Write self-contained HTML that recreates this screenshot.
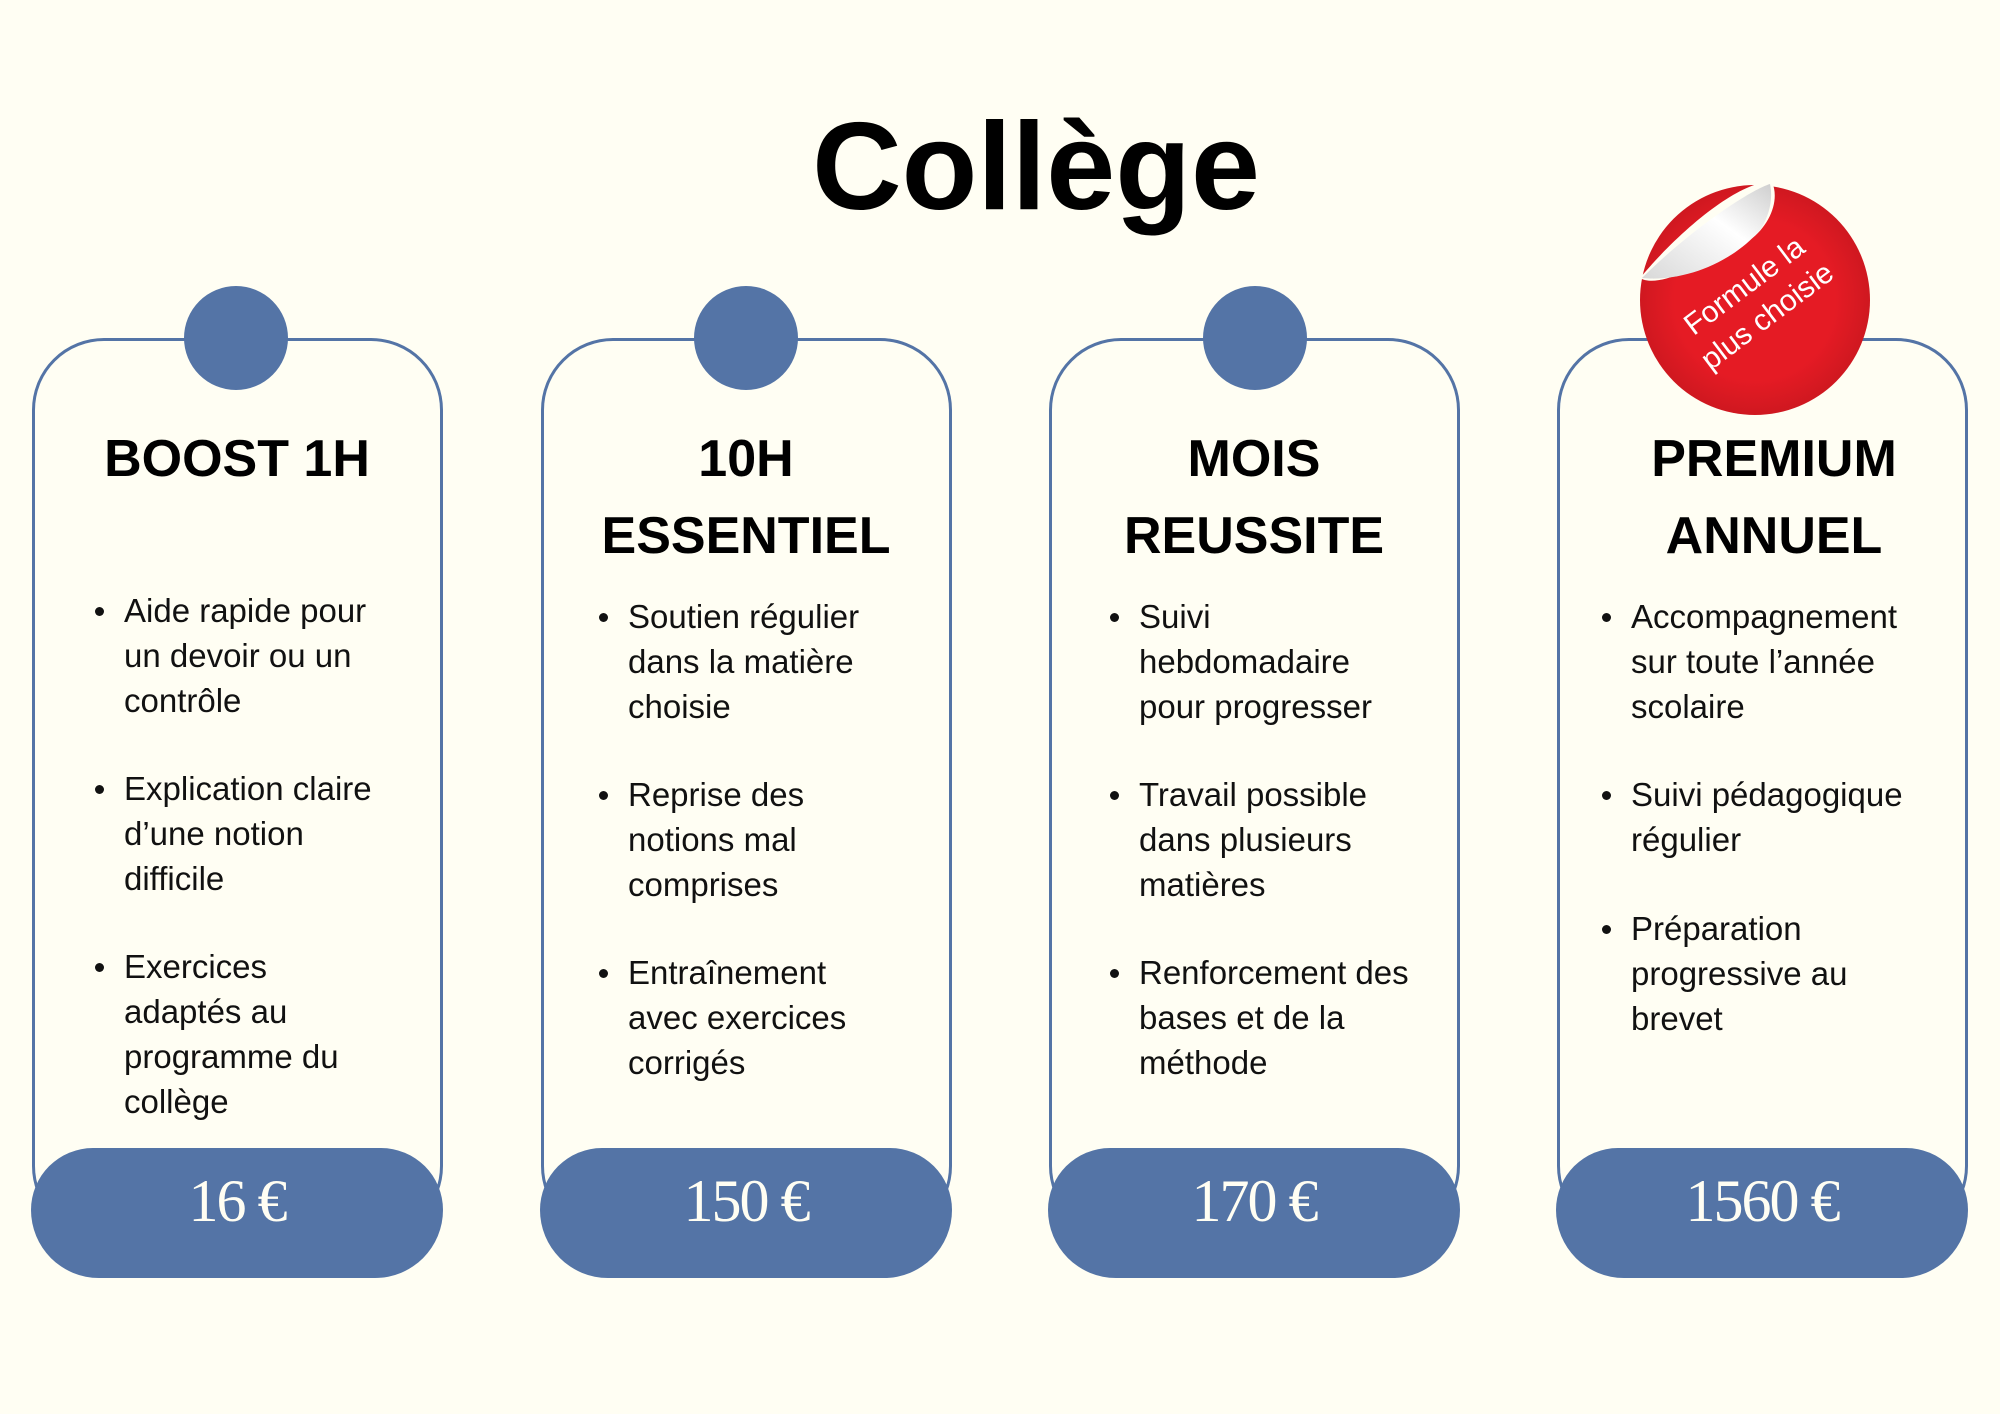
<!DOCTYPE html>
<html><head><meta charset="utf-8"><style>
body{margin:0;width:2000px;height:1414px;background:#fffef3;position:relative;overflow:hidden;font-family:"Liberation Sans",sans-serif;}
.card{position:absolute;top:338px;width:411px;height:900px;border:3px solid #5474a6;border-radius:72px;box-sizing:border-box;}
.dot{position:absolute;top:286px;width:104px;height:104px;border-radius:50%;background:#5474a6;}
.pill{position:absolute;top:1148px;width:412px;height:130px;border-radius:62px 62px 68px 68px;background:#5474a6;color:#fffef3;font-family:"Liberation Serif",serif;font-size:60px;text-align:center;line-height:106px;letter-spacing:-2px;}
.h{position:absolute;width:410px;text-align:center;font-weight:bold;font-size:52px;line-height:77px;color:#000;}
.it{position:absolute;font-size:33px;line-height:45px;color:#111;}
.it:before{content:"";position:absolute;left:-29px;top:19px;width:9px;height:9px;border-radius:50%;background:#111;}
</style></head><body>
<div style="position:absolute;left:0;width:2072px;top:97px;text-align:center;font-weight:bold;font-size:124px;line-height:140px;">Collège</div>

<div class="card" style="left:32px"></div><div class="dot" style="left:184px"></div>
<div class="card" style="left:541px"></div><div class="dot" style="left:694px"></div>
<div class="card" style="left:1049px"></div><div class="dot" style="left:1203px"></div>
<div class="card" style="left:1557px"></div>

<div class="pill" style="left:31px">16 €</div>
<div class="pill" style="left:540px">150 €</div>
<div class="pill" style="left:1048px">170 €</div>
<div class="pill" style="left:1556px">1560 €</div>

<div class="h" style="left:32px;top:421px">BOOST 1H</div>
<div class="h" style="left:541px;top:421px">10H<br>ESSENTIEL</div>
<div class="h" style="left:1049px;top:421px">MOIS<br>REUSSITE</div>
<div class="h" style="left:1569px;top:421px">PREMIUM<br>ANNUEL</div>

<div class="it" style="left:124px;top:588px">Aide rapide pour<br>un devoir ou un<br>contrôle</div>
<div class="it" style="left:124px;top:766px">Explication claire<br>d’une notion<br>difficile</div>
<div class="it" style="left:124px;top:944px">Exercices<br>adaptés au<br>programme du<br>collège</div>

<div class="it" style="left:628px;top:594px">Soutien régulier<br>dans la matière<br>choisie</div>
<div class="it" style="left:628px;top:772px">Reprise des<br>notions mal<br>comprises</div>
<div class="it" style="left:628px;top:950px">Entraînement<br>avec exercices<br>corrigés</div>

<div class="it" style="left:1139px;top:594px">Suivi<br>hebdomadaire<br>pour progresser</div>
<div class="it" style="left:1139px;top:772px">Travail possible<br>dans plusieurs<br>matières</div>
<div class="it" style="left:1139px;top:950px">Renforcement des<br>bases et de la<br>méthode</div>

<div class="it" style="left:1631px;top:594px">Accompagnement<br>sur toute l’année<br>scolaire</div>
<div class="it" style="left:1631px;top:772px">Suivi pédagogique<br>régulier</div>
<div class="it" style="left:1631px;top:906px">Préparation<br>progressive au<br>brevet</div>

<svg style="position:absolute;left:1620px;top:170px" width="270" height="260" viewBox="0 0 270 260">
<defs><radialGradient id="g" cx="0.5" cy="0.5" r="0.5"><stop offset="0.7" stop-color="#e51b24"/><stop offset="1" stop-color="#cf1820"/></radialGradient>
<linearGradient id="p" x1="0" y1="1" x2="1" y2="0"><stop offset="0" stop-color="#d8d8d8"/><stop offset="0.6" stop-color="#ffffff"/><stop offset="1" stop-color="#cfcfcf"/></linearGradient></defs>
<circle cx="135" cy="130" r="115" fill="url(#g)"/>
<path d="M95 14 L250 14 L250 0 L95 0 Z" fill="#fffef3"/>
<path d="M152 12 C120 10 60 60 20 108 C40 120 90 90 130 70 C150 55 160 30 152 12 Z" fill="#fffef3"/>
<path d="M150 14 C130 20 70 60 22 108 C60 112 110 95 140 60 C150 45 153 28 150 14 Z" fill="url(#p)"/>
<g transform="translate(135 130) rotate(-37)" fill="#fff" font-family="Liberation Sans,sans-serif" font-size="30" text-anchor="middle">
<text x="0" y="-8">Formule la</text><text x="0" y="30">plus choisie</text></g>
</svg>
</body></html>
